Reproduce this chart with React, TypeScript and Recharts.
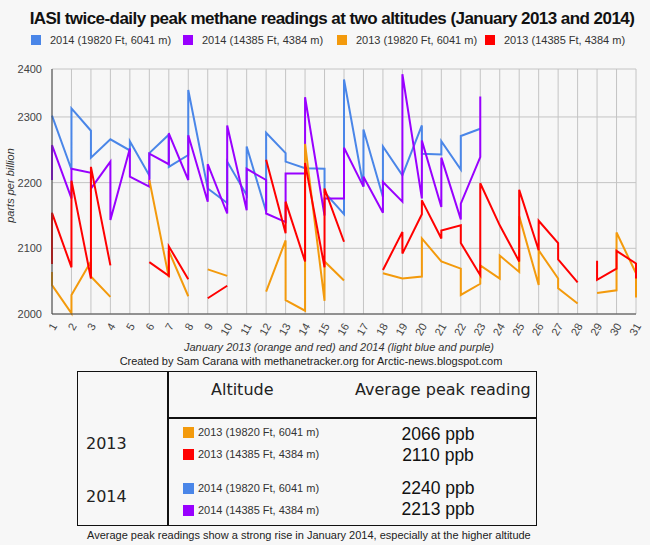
import { LineChart, Line, XAxis, YAxis, CartesianGrid, Legend } from "recharts";

const DAYS = [
  1, 2, 3, 4, 5, 6, 7, 8, 9, 10, 11, 12, 13, 14, 15, 16, 17, 18, 19, 20, 21, 22, 23, 24, 25, 26, 27, 28, 29, 30, 31,
];

// two readings per day, in order (day 1 first, day 1 second, day 2 first, ...)
const BLUE_2014_HIGH = [
  null, 2302, 2220, 2313, 2279, 2238, 2266, 2266, 2249, 2263, 2211, 2245, 2273, 2224, 2242, 2341,
  2191, 2191, 2169, 2232, 2181, 2255, 2156, 2276, 2245, 2232, 2222, 2222, 2221, 2185, 2152, 2357,
  2194, 2281, 2178, 2255, 2211, 2211, 2287, 2244, 2243, 2263, 2220, 2271, 2282, null,
  null, null, null, null, null, null, null, null, null, null, null, null, null, null, null, null,
];

const PURPLE_2014_LOW = [
  2204, 2257, 2176, 2221, 2215, 2191, 2232, 2143, 2252, 2209, 2194, 2244, 2228, 2275, 2204, 2272,
  2171, 2228, 2153, 2287, 2158, 2221, 2204, 2153, 2140, 2214, 2214, 2330, 2150, 2176, 2176, 2253,
  2194, 2209, 2154, 2201, 2171, 2365, 2176, 2264, 2163, 2238, 2144, 2168, 2239, 2331,
  null, null, null, null, null, null, null, null, null, null, null, null, null, null, null, null,
];

const ORANGE_2013_HIGH = [
  2064, 2044, 2001, 2029, 2080, 2057, 2026, null, null, null, null, 2204, 2056, 2096, 2027, null,
  null, 2068, 2058, null, null, null, null, 2034, 2112, 2021, 2005, 2259, 2020, 2080, 2051, null,
  null, null, null, 2062, 2054, 2054, 2057, 2115, 2080, 2080, 2069, 2029, 2046, 2074, 2054, 2089,
  2064, 2149, 2044, 2097, 2054, 2039, 2016, null, null, 2032, 2036, 2124, 2062, 2025,
];

const RED_2013_LOW = [
  2076, 2154, 2071, 2203, 2054, 2224, 2074, null, null, null, null, 2079, 2058, 2103, 2053, null,
  null, 2024, 2043, null, null, null, null, 2235, 2123, 2171, 2080, 2230, 2071, 2191, 2110, null,
  null, null, null, 2067, 2125, 2092, 2152, 2173, 2115, 2127, 2135, 2108, 2059, 2199, 2135, 2135,
  2080, 2189, 2097, 2142, 2108, 2083, 2048, null, 2081, 2052, 2069, 2096, 2077, 2054,
];

const Y_TICKS = [2000, 2100, 2200, 2300, 2400];
// the picture is cut off a little below 2400, its top line carries the 2400 label
const Y_TOP = 2373;

const SERIES_NAMES = [
  "2014 (19820 Ft, 6041 m)",
  "2014 (14385 Ft, 4384 m)",
  "2013 (19820 Ft, 6041 m)",
  "2013 (14385 Ft, 4384 m)",
];
const COLORS = ["#4a86e8", "#9900ff", "#f39a0c", "#ff0000"];

const YEARS = ["2013", "2014"];
const AVG_PEAKS = [2066, 2110, 2240, 2213];
const TABLE_ORDER = [2, 3, 0, 1];

const rows = BLUE_2014_HIGH.map((_, i) => ({
  day: DAYS[Math.floor(i / 2)],
  blueHigh: BLUE_2014_HIGH[i],
  purpleLow: PURPLE_2014_LOW[i],
  orangeHigh: ORANGE_2013_HIGH[i],
  redLow: RED_2013_LOW[i],
}));

const FONT = '"Liberation Sans", Arial, sans-serif';
const VERDANA = '"DejaVu Sans", Verdana, sans-serif';

function DayTick({ x, y, payload }: any) {
  return (
    <text
      transform={`translate(${x + 5.5},${y + 4}) rotate(-60)`}
      textAnchor="end"
      fontSize={11}
      fontFamily={FONT}
      fill="#444"
    >
      {payload.value}
    </text>
  );
}

function LegendRow({ payload }: any) {
  const lefts = [31, 183, 337, 485];
  const items = [...(payload || [])].sort(
    (a: any, b: any) => SERIES_NAMES.indexOf(a.value) - SERIES_NAMES.indexOf(b.value)
  );
  return (
    <div style={{ position: "relative", height: 16 }}>
      {items.map((p: any, i: number) => (
        <div
          key={p.value}
          style={{
            position: "absolute",
            left: lefts[i],
            top: 0,
            display: "flex",
            alignItems: "center",
            fontSize: 11,
            fontFamily: FONT,
            color: "#333",
            whiteSpace: "nowrap",
          }}
        >
          <span style={{ width: 10, height: 10, background: p.color, marginRight: 9, display: "inline-block" }} />
          {p.value}
        </div>
      ))}
    </div>
  );
}

function YTitle({ viewBox }: any) {
  const cy = viewBox.y + viewBox.height / 2 - 6;
  return (
    <text
      transform={`translate(14,${cy}) rotate(-90)`}
      textAnchor="middle"
      fontSize={11}
      fontStyle="italic"
      fontFamily={FONT}
      fill="#333"
    >
      parts per billion
    </text>
  );
}

function XTitle({ viewBox }: any) {
  return (
    <text
      x={viewBox.x + viewBox.width / 2 - 5}
      y={351}
      textAnchor="middle"
      fontSize={11}
      fontStyle="italic"
      fontFamily={FONT}
      fill="#333"
    >
      January 2013 (orange and red) and 2014 (light blue and purple)
    </text>
  );
}

export default function App() {
  return (
    <div
      style={{
        position: "absolute",
        left: 0,
        top: 0,
        width: 650,
        height: 545,
        background: "#f7f7f7",
        overflow: "hidden",
        fontFamily: FONT,
        color: "#222",
      }}
    >
      <div
        style={{
          position: "absolute",
          left: 0,
          width: 664,
          top: 8,
          lineHeight: "22px",
          textAlign: "center",
          fontSize: 17,
          fontWeight: "bold",
          letterSpacing: -0.55,
          color: "#111",
          whiteSpace: "nowrap",
        }}
      >
        IASI twice-daily peak methane readings at two altitudes (January 2013 and 2014)
      </div>

      <div style={{ position: "absolute", left: 0, top: 0 }}>
        <LineChart width={650} height={360} data={rows} margin={{ top: 69, right: 14, left: 0, bottom: 0 }}>
          <CartesianGrid stroke="#c4c4c4" />
          <XAxis
            dataKey="day"
            type="number"
            domain={[1, 31]}
            ticks={DAYS}
            interval={0}
            tickLine={false}
            axisLine={{ stroke: "#444" }}
            height={46}
            tick={<DayTick />}
            label={<XTitle />}
          />
          <YAxis
            type="number"
            domain={[2000, Y_TOP]}
            ticks={Y_TICKS.map((v) => (v > Y_TOP ? Y_TOP : v))}
            tickFormatter={(v: number) => (v >= Y_TOP ? String(Y_TICKS[Y_TICKS.length - 1]) : String(v))}
            tickLine={false}
            tickMargin={4}
            axisLine={{ stroke: "#444" }}
            width={52}
            tick={{ fontSize: 11, fill: "#444", fontFamily: FONT }}
            label={<YTitle />}
          />
          <Legend
            layout="horizontal"
            verticalAlign="middle"
            align="center"
            content={<LegendRow />}
            wrapperStyle={{ top: 34, left: 0, width: 650, height: 16 }}
          />
          <Line type="linear" dataKey="blueHigh" name={SERIES_NAMES[0]} stroke={COLORS[0]} strokeWidth={2} dot={false} isAnimationActive={false} />
          <Line type="linear" dataKey="purpleLow" name={SERIES_NAMES[1]} stroke={COLORS[1]} strokeWidth={2} dot={false} isAnimationActive={false} />
          <Line type="linear" dataKey="orangeHigh" name={SERIES_NAMES[2]} stroke={COLORS[2]} strokeWidth={2} dot={false} isAnimationActive={false} />
          <Line type="linear" dataKey="redLow" name={SERIES_NAMES[3]} stroke={COLORS[3]} strokeWidth={2} dot={false} isAnimationActive={false} />
        </LineChart>
      </div>

      <div style={{ position: "absolute", left: 0, width: 622, top: 355, textAlign: "center", fontSize: 11 }}>
        Created by Sam Carana with methanetracker.org for Arctic-news.blogspot.com
      </div>

      {/* summary table */}
      <div style={{ position: "absolute", left: 77, top: 371, width: 460, height: 155, border: "1.5px solid #111", boxSizing: "border-box" }} />
      <div style={{ position: "absolute", left: 167, top: 371, width: 1.5, height: 155, background: "#111" }} />
      <div style={{ position: "absolute", left: 168, top: 417, width: 369, height: 1.5, background: "#111" }} />
      <div style={{ position: "absolute", left: 211, top: 380, lineHeight: "20px", fontSize: 16, fontFamily: VERDANA }}>Altitude</div>
      <div style={{ position: "absolute", left: 355, top: 380, lineHeight: "20px", fontSize: 16, fontFamily: VERDANA }}>Average peak reading</div>
      {YEARS.map((yr, i) => (
        <div key={yr} style={{ position: "absolute", left: 86, top: [434, 487][i], lineHeight: "20px", fontSize: 16, fontFamily: VERDANA }}>
          {yr}
        </div>
      ))}
      {TABLE_ORDER.map((s, i) => (
        <div key={s}>
          <div
            style={{
              position: "absolute",
              left: 183,
              top: [432, 454, 488, 510][i] - 10,
              height: 20,
              display: "flex",
              alignItems: "center",
              fontSize: 11,
              color: "#333",
              whiteSpace: "nowrap",
            }}
          >
            <span style={{ width: 11, height: 11, background: COLORS[s], marginRight: 4, display: "inline-block" }} />
            {SERIES_NAMES[s]}
          </div>
          <div
            style={{
              position: "absolute",
              left: 339,
              width: 198,
              top: [434, 455, 488, 509][i] - 11,
              lineHeight: "22px",
              textAlign: "center",
              fontSize: 17.5,
              color: "#111",
            }}
          >
            {AVG_PEAKS[i]} ppb
          </div>
        </div>
      ))}
      <div style={{ position: "absolute", left: 87, top: 528, lineHeight: "14px", fontSize: 11, whiteSpace: "nowrap" }}>
        Average peak readings show a strong rise in January 2014, especially at the higher altitude
      </div>
    </div>
  );
}
